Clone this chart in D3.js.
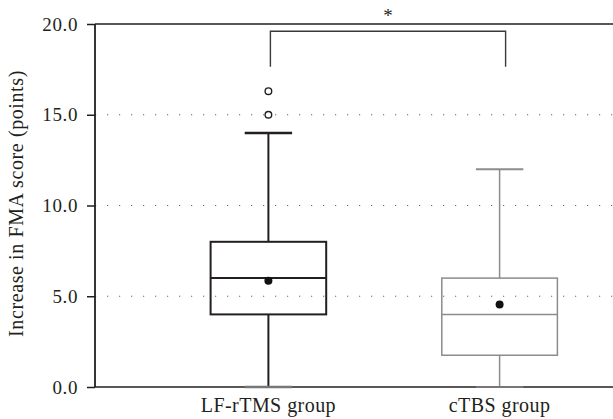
<!DOCTYPE html>
<html>
<head>
<meta charset="utf-8">
<script src="https://cdn.jsdelivr.net/npm/d3@7"></script>
<style>
  html, body { margin: 0; padding: 0; background: #fff; }
  svg { display: block; }
</style>
</head>
<body>
<svg id="chart" width="613" height="419"></svg>
<script>
// Groups and their box-plot summaries (points gained on the FMA scale)
const groups = ["LF-rTMS group", "cTBS group"];
const whiskerLow = [0, 0];
const q1 = [4, 1.75];
const median = [6, 4];
const q3 = [8, 6];
const whiskerHigh = [14, 12];
const means = [5.85, 4.55];
const outliers = [[15, 16.3], []];
const groupColors = ["#231f20", "#8c8c8c"];
const groupStroke = [2, 1.5];

const yTicks = [0, 5, 10, 15, 20];
const gridValues = [5, 10, 15];
const yLabel = "Increase in FMA score (points)";
const sigLabel = "*";
const bracketTop = 19.6;
const bracketLegs = 17.65;

const FONT = "'Liberation Serif', 'Times New Roman', serif";
const INK = "#231f20";

const svg = d3.select("#chart");
const margin = { left: 95, top: 24, bottom: 32 };
const height = 419;
const plotRight = 673; // frame runs on past the window's right edge

const y = d3.scaleLinear().domain([0, 20]).range([height - margin.bottom, margin.top]);
const x = d3.scaleBand().domain(groups).range([margin.left, plotRight])
  .paddingInner(0.5).paddingOuter(0.5);
const bw = x.bandwidth();
const capW = bw * 0.41;

function styleText(sel, size, spacing) {
  return sel.style("font-family", FONT).style("font-size", size + "px")
    .style("letter-spacing", spacing + "px").attr("fill", INK);
}

// dotted grid lines
svg.append("g").selectAll("line").data(gridValues).join("line")
  .attr("x1", margin.left).attr("x2", plotRight)
  .attr("y1", d => y(d)).attr("y2", d => y(d))
  .attr("stroke", "#666").attr("stroke-width", 1.2)
  .attr("stroke-dasharray", "1.2,10.8");

// left axis with ticks and labels
const yAxis = d3.axisLeft(y).tickValues(yTicks).tickFormat(d3.format(".1f"))
  .tickSize(8).tickPadding(9);
const ga = svg.append("g").attr("transform", `translate(${margin.left},0)`).call(yAxis);
ga.select(".domain").remove();
ga.selectAll(".tick line").attr("stroke", INK).attr("stroke-width", 1.5);
styleText(ga.selectAll(".tick text"), 19, 0.6);

// frame: left, top and bottom edges
svg.append("line").attr("x1", margin.left).attr("x2", margin.left)
  .attr("y1", y(20)).attr("y2", y(0)).attr("stroke", INK).attr("stroke-width", 1.8);
svg.append("line").attr("x1", margin.left).attr("x2", plotRight)
  .attr("y1", y(20)).attr("y2", y(20)).attr("stroke", INK).attr("stroke-width", 1.5);
svg.append("line").attr("x1", margin.left).attr("x2", plotRight)
  .attr("y1", y(0)).attr("y2", y(0)).attr("stroke", INK).attr("stroke-width", 1.5);

// boxes
groups.forEach((g, i) => {
  const cx = x(g) + bw / 2;
  const col = groupColors[i];
  const sw = groupStroke[i];
  const gg = svg.append("g");
  // whiskers
  gg.append("line").attr("x1", cx).attr("x2", cx)
    .attr("y1", y(q3[i])).attr("y2", y(whiskerHigh[i])).attr("stroke", col).attr("stroke-width", sw);
  gg.append("line").attr("x1", cx).attr("x2", cx)
    .attr("y1", y(q1[i])).attr("y2", y(whiskerLow[i])).attr("stroke", col).attr("stroke-width", sw);
  [whiskerHigh[i], whiskerLow[i]].forEach(v => {
    gg.append("line").attr("x1", cx - capW / 2).attr("x2", cx + capW / 2)
      .attr("y1", y(v)).attr("y2", y(v)).attr("stroke", v === 0 ? "#777" : col)
      .attr("stroke-width", sw + 0.5);
  });
  // box and median
  gg.append("rect").attr("x", x(g)).attr("width", bw)
    .attr("y", y(q3[i])).attr("height", y(q1[i]) - y(q3[i]))
    .attr("fill", "none").attr("stroke", col).attr("stroke-width", sw);
  gg.append("line").attr("x1", x(g)).attr("x2", x(g) + bw)
    .attr("y1", y(median[i])).attr("y2", y(median[i])).attr("stroke", col).attr("stroke-width", sw);
  // mean
  gg.append("circle").attr("cx", cx).attr("cy", y(means[i])).attr("r", 4).attr("fill", "#111");
  // outliers
  gg.selectAll("circle.out").data(outliers[i]).join("circle").attr("class", "out")
    .attr("cx", cx).attr("cy", d => y(d)).attr("r", 3.3)
    .attr("fill", "#fff").attr("stroke", INK).attr("stroke-width", 1.4);
  // category label
  styleText(svg.append("text").attr("x", cx).attr("y", 412).attr("text-anchor", "middle"), 20, 0.45)
    .text(g);
});

// significance bracket
const bx1 = x(groups[0]) + bw / 2 + 2;
const bx2 = x(groups[1]) + bw / 2 + 6;
svg.append("path")
  .attr("d", `M${bx1},${y(bracketLegs)}V${y(bracketTop)}H${bx2}V${y(bracketLegs)}`)
  .attr("fill", "none").attr("stroke", "#3a3a3a").attr("stroke-width", 1.4);
styleText(svg.append("text").attr("x", (bx1 + bx2) / 2).attr("y", 22).attr("text-anchor", "middle"), 19, 0)
  .text(sigLabel);

// y-axis title
styleText(svg.append("text")
  .attr("transform", `translate(23,${(y(0) + y(20)) / 2 - 2}) rotate(-90)`)
  .attr("text-anchor", "middle"), 20, 0.6)
  .text(yLabel);
</script>
</body>
</html>
